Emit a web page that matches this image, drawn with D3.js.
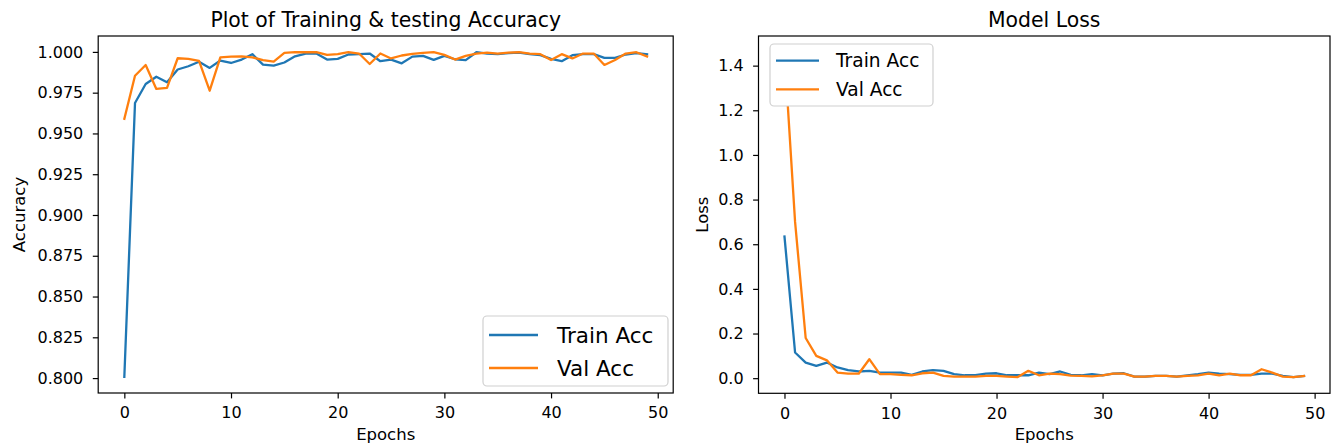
<!DOCTYPE html>
<html>
<head>
<meta charset="utf-8">
<script src="https://cdn.jsdelivr.net/npm/d3@7"></script>
<style>
  html, body { margin: 0; padding: 0; background: #fff; }
  svg { display: block; font-family: "DejaVu Sans", sans-serif; }
</style>
</head>
<body>
<svg id="chart" width="1335" height="446"></svg>
<script>
const epochs = [0,1,2,3,4,5,6,7,8,9,10,11,12,13,14,15,16,17,18,19,20,21,22,23,24,25,26,27,28,29,30,31,32,33,34,35,36,37,38,39,40,41,42,43,44,45,46,47,48,49];

const trainAcc = [0.8008, 0.9687, 0.9803, 0.9848, 0.9814, 0.9892, 0.9912, 0.9940, 0.9902, 0.9947,
                  0.9932, 0.9953, 0.9986, 0.9922, 0.9916, 0.9935, 0.9973, 0.9990, 0.9990, 0.9953,
                  0.9957, 0.9984, 0.9986, 0.9990, 0.9943, 0.9953, 0.9930, 0.9971, 0.9976, 0.9951,
                  0.9976, 0.9955, 0.9950, 0.9998, 0.9990, 0.9986, 0.9992, 0.9996, 0.9986, 0.9980,
                  0.9957, 0.9943, 0.9980, 0.9986, 0.9986, 0.9963, 0.9963, 0.9984, 0.9992, 0.9986];

const valAcc = [0.9590, 0.9854, 0.9920, 0.9773, 0.9780, 0.9961, 0.9957, 0.9945, 0.9762, 0.9967,
                0.9971, 0.9973, 0.9967, 0.9950, 0.9940, 0.9994, 0.9998, 0.9998, 0.9998, 0.9982,
                0.9986, 0.9998, 0.9990, 0.9926, 0.9990, 0.9960, 0.9978, 0.9988, 0.9994, 0.9998,
                0.9982, 0.9953, 0.9976, 0.9990, 0.9996, 0.9990, 0.9996, 0.9998, 0.9990, 0.9986,
                0.9950, 0.9986, 0.9960, 0.9990, 0.9990, 0.9920, 0.9950, 0.9990, 0.9998, 0.9972];

const trainLoss = [0.635, 0.115, 0.070, 0.055, 0.070, 0.048, 0.036, 0.030, 0.033, 0.025,
                   0.025, 0.025, 0.015, 0.030, 0.036, 0.033, 0.018, 0.013, 0.014, 0.020,
                   0.022, 0.013, 0.013, 0.013, 0.025, 0.018, 0.030, 0.015, 0.013, 0.018,
                   0.013, 0.020, 0.022, 0.007, 0.007, 0.010, 0.010, 0.007, 0.013, 0.018,
                   0.025, 0.020, 0.018, 0.015, 0.015, 0.020, 0.020, 0.010, 0.005, 0.010];

const valLoss = [1.460, 0.700, 0.180, 0.100, 0.080, 0.025, 0.020, 0.020, 0.085, 0.018,
                 0.018, 0.015, 0.013, 0.022, 0.025, 0.010, 0.007, 0.007, 0.007, 0.010,
                 0.010, 0.007, 0.005, 0.033, 0.013, 0.020, 0.018, 0.011, 0.010, 0.008,
                 0.013, 0.020, 0.020, 0.007, 0.007, 0.010, 0.010, 0.007, 0.010, 0.013,
                 0.020, 0.013, 0.020, 0.013, 0.013, 0.040, 0.025, 0.007, 0.005, 0.010];

const xTicks = [0, 10, 20, 30, 40, 50];
const accTicks = [0.800, 0.825, 0.850, 0.875, 0.900, 0.925, 0.950, 0.975, 1.000];
const lossTicks = [0.0, 0.2, 0.4, 0.6, 0.8, 1.0, 1.2, 1.4];
const seriesNames = ["Train Acc", "Val Acc"];
const colors = ["#1f77b4", "#ff7f0e"];

const svg = d3.select("#chart");

function padDomain(arrs) {
  const all = [].concat(...arrs);
  const lo = d3.min(all), hi = d3.max(all), r = hi - lo;
  return [lo - 0.05 * r, hi + 0.05 * r];
}

function panel(opts) {
  const { left, right, top, bottom, series, yTicks, yFmt, title, ylabel, ylabelX, legend } = opts;
  const g = svg.append("g");
  const x = d3.scaleLinear().domain(padDomain([epochs])).range([left, right]);
  const y = d3.scaleLinear().domain(padDomain(series)).range([bottom, top]);

  const line = d3.line().x((d, i) => x(epochs[i])).y(d => y(d));
  series.forEach((s, k) => {
    g.append("path").datum(s)
      .attr("d", line)
      .attr("fill", "none")
      .attr("stroke", colors[k])
      .attr("stroke-width", 2.3)
      .attr("stroke-linejoin", "round")
      .attr("stroke-linecap", "square");
  });

  g.append("rect")
    .attr("x", left).attr("y", top)
    .attr("width", right - left).attr("height", bottom - top)
    .attr("fill", "none").attr("stroke", "#000").attr("stroke-width", 1.2);

  const xAxis = d3.axisBottom(x).tickValues(xTicks).tickSize(5.4).tickPadding(8.5).tickFormat(d3.format("d"));
  const gx = g.append("g").attr("transform", `translate(0,${bottom})`).call(xAxis);
  const yAxis = d3.axisLeft(y).tickValues(yTicks).tickSize(5.4).tickPadding(9.5).tickFormat(yFmt);
  const gy = g.append("g").attr("transform", `translate(${left},0)`).call(yAxis);
  [gx, gy].forEach(a => {
    a.select(".domain").remove();
    a.selectAll(".tick line").attr("stroke", "#000").attr("stroke-width", 1.2);
    a.selectAll(".tick text").attr("fill", "#000").style("font-size", "16px").style("font-family", "DejaVu Sans");
  });

  g.append("text")
    .attr("x", (left + right) / 2).attr("y", 27)
    .attr("text-anchor", "middle")
    .style("font-size", "20.4px").attr("fill", "#000")
    .text(title);

  g.append("text")
    .attr("x", (left + right) / 2).attr("y", 440)
    .attr("text-anchor", "middle")
    .style("font-size", "16.5px").attr("fill", "#000")
    .text("Epochs");

  g.append("text")
    .attr("transform", `translate(${ylabelX},${(top + bottom) / 2}) rotate(-90)`)
    .attr("text-anchor", "middle")
    .style("font-size", "16.5px").attr("fill", "#000")
    .text(ylabel);

  const L = legend;
  const lg = g.append("g");
  lg.append("rect")
    .attr("x", L.x).attr("y", L.y).attr("width", L.w).attr("height", L.h)
    .attr("rx", 4).attr("ry", 4)
    .attr("fill", "#fff")
    .attr("stroke", "#d0d0d0").attr("stroke-width", 1.2);
  seriesNames.forEach((name, k) => {
    const cy = L.rows[k];
    lg.append("line")
      .attr("x1", L.hx1).attr("x2", L.hx2).attr("y1", cy).attr("y2", cy)
      .attr("stroke", colors[k]).attr("stroke-width", 2.3);
    lg.append("text")
      .attr("x", L.tx).attr("y", cy).attr("dy", "0.36em")
      .style("font-size", L.fs + "px").attr("fill", "#000")
      .text(name);
  });
}

panel({
  left: 98.2, right: 673.2, top: 36, bottom: 393,
  series: [trainAcc, valAcc], yTicks: accTicks, yFmt: d3.format(".3f"),
  title: "Plot of Training & testing Accuracy", ylabel: "Accuracy", ylabelX: 25,
  legend: { x: 483, y: 316, w: 185, h: 70, rows: [335, 368], hx1: 489, hx2: 538, tx: 557, fs: 21.5 }
});

panel({
  left: 758.5, right: 1330, top: 36, bottom: 393.3,
  series: [trainLoss, valLoss], yTicks: lossTicks, yFmt: d3.format(".1f"),
  title: "Model Loss", ylabel: "Loss", ylabelX: 708,
  legend: { x: 770, y: 44, w: 163, h: 62, rows: [60.7, 89.3], hx1: 776, hx2: 819, tx: 836, fs: 18.6 }
});
</script>
</body>
</html>
